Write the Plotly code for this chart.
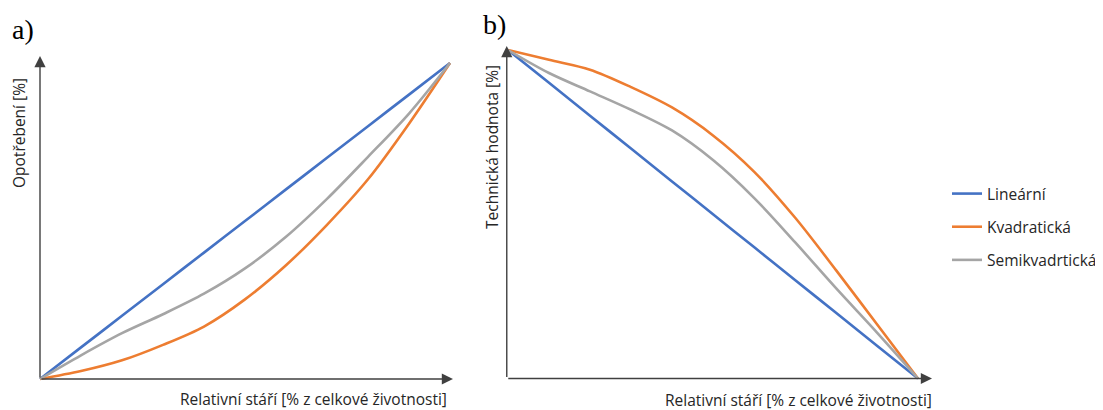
import plotly.graph_objects as go

# ---- data ----
age = [0, 10, 20, 30, 40, 50, 60, 70, 80, 90, 100]
wear_linear = [0, 10, 20, 30, 40, 50, 60, 70, 80, 90, 100]
wear_quadratic = [0, 2.5, 5.9, 10.8, 16.6, 25.2, 36.0, 48.8, 63.2, 80.8, 100]
wear_semiquadratic = [0, 7.5, 14.5, 20.5, 27.0, 35.0, 45.0, 57.0, 70.3, 84.0, 100]

value_linear = [100, 90, 80, 70, 60, 50, 40, 30, 20, 10, 0]
value_quadratic = [100, 97.0, 94.0, 88.7, 82.5, 74.0, 63.0, 49.0, 33.0, 16.5, 0]
value_semiquadratic = [100, 93.0, 87.4, 81.8, 75.5, 66.5, 55.0, 41.5, 27.5, 14.0, 0]

series_names = ["Lineární", "Kvadratická", "Semikvadrtická"]
colors = ["#4472C4", "#ED7D31", "#A5A5A5"]
x_title = "Relativní stáří [% z celkové životnosti]"
y_title_a = "Opotřebení [%]"
y_title_b = "Technická hodnota [%]"

FONT = "Open Sans"
FS = 15.5
TXT = "#262626"

# page body has an 8px margin; positions below are given in window pixels
OFF = 8
W, H = 1095, 402


def px_x(p):
    return (p - OFF) / W


def px_y(p):
    return 1 - (p - OFF) / H


fig = go.Figure()

left = [wear_linear, wear_quadratic, wear_semiquadratic]
right = [value_linear, value_quadratic, value_semiquadratic]
for i, (name, col) in enumerate(zip(series_names, colors)):
    fig.add_trace(go.Scatter(x=age, y=left[i], mode="lines", name=name,
                             line=dict(color=col, width=2.6, shape="spline", smoothing=0.9),
                             xaxis="x", yaxis="y", showlegend=False, hoverinfo="skip"))
for i, (name, col) in enumerate(zip(series_names, colors)):
    fig.add_trace(go.Scatter(x=age, y=right[i], mode="lines", name=name,
                             line=dict(color=col, width=2.6, shape="spline", smoothing=0.9),
                             xaxis="x2", yaxis="y2", legendgroup=f"g{i}", showlegend=True,
                             hoverinfo="skip"))

# Left panel: x 0 -> px40, 100 -> px450 ; y 0 -> px379, 100 -> px63
LX0, LY0, sx, sy = 40, 379, 4.1, 3.16
lx0, lx1 = 30, 462
ly0, ly1 = 50, 392
xr_a = [(lx0 - LX0) / sx, (lx1 - LX0) / sx]
yr_a = [(LY0 - ly1) / sy, (LY0 - ly0) / sy]

# Right panel: x 0 -> px508, 100 -> px918 ; y 0 -> px378.5, 100 -> px50
RX0, RY0, sx2, sy2 = 508, 378.5, 4.10, 3.285
rx0, rx1 = 495, 945
ry0, ry1 = 38, 392
xr_b = [(rx0 - RX0) / sx2, (rx1 - RX0) / sx2]
yr_b = [(RY0 - ry1) / sy2, (RY0 - ry0) / sy2]

ax_common = dict(visible=False, showgrid=False, zeroline=False, fixedrange=True)
fig.update_layout(
    width=W, height=H,
    margin=dict(l=0, r=0, t=0, b=0),
    paper_bgcolor="white", plot_bgcolor="rgba(0,0,0,0)",
    xaxis=dict(domain=[px_x(lx0), px_x(lx1)], range=xr_a, **ax_common),
    yaxis=dict(domain=[px_y(ly1), px_y(ly0)], range=yr_a, **ax_common),
    xaxis2=dict(domain=[px_x(rx0), px_x(rx1)], range=xr_b, anchor="y2", **ax_common),
    yaxis2=dict(domain=[px_y(ry1), px_y(ry0)], range=yr_b, anchor="x2", **ax_common),
    showlegend=True,
    legend=dict(x=px_x(947), y=px_y(177), xanchor="left", yanchor="top",
                font=dict(family=FONT, size=FS, color=TXT),
                tracegroupgap=10, bgcolor="rgba(0,0,0,0)"),
    font=dict(family=FONT, color="#404040"),
)

AX_COL = "#404040"
annotations = []
arrows = [
    ("x", "y", (453 - LX0) / sx, 0, 0),
    ("x", "y", 0, (LY0 - 56) / sy, 0),
    ("x2", "y2", (932 - RX0) / sx2, 0, -0.3),
    ("x2", "y2", -0.3, (RY0 - 46) / sy2, -0.3),
]
for xa, ya, x, y, tail_x in arrows:
    annotations.append(dict(xref=xa, yref=ya, axref=xa, ayref=ya, x=x, y=y,
                            ax=tail_x, ay=0,
                            text="", showarrow=True, arrowhead=2, arrowsize=1.6,
                            arrowwidth=1.4, arrowcolor=AX_COL))

annotations += [
    dict(xref="paper", yref="paper", x=px_x(449), y=px_y(399), text=x_title, showarrow=False,
         xanchor="right", yanchor="middle", font=dict(family=FONT, size=FS, color=TXT)),
    dict(xref="paper", yref="paper", x=px_x(934), y=px_y(400), text=x_title, showarrow=False,
         xanchor="right", yanchor="middle", font=dict(family=FONT, size=FS, color=TXT)),
    dict(xref="paper", yref="paper", x=px_x(18.5), y=px_y(133.5), text=y_title_a, showarrow=False,
         textangle=-90, xanchor="center", yanchor="middle",
         font=dict(family=FONT, size=FS, color=TXT)),
    dict(xref="paper", yref="paper", x=px_x(492), y=px_y(147), text=y_title_b, showarrow=False,
         textangle=-90, xanchor="center", yanchor="middle",
         font=dict(family=FONT, size=FS, color=TXT)),
    dict(xref="paper", yref="paper", x=px_x(10), y=px_y(30), text="a)", showarrow=False,
         xanchor="left", yanchor="middle", font=dict(family="Liberation Serif", size=28, color="black")),
    dict(xref="paper", yref="paper", x=px_x(481), y=px_y(24), text="b)", showarrow=False,
         xanchor="left", yanchor="middle", font=dict(family="Liberation Serif", size=28, color="black")),
]
fig.update_layout(annotations=annotations)

fig.write_html("out.html", config={"displayModeBar": False})
